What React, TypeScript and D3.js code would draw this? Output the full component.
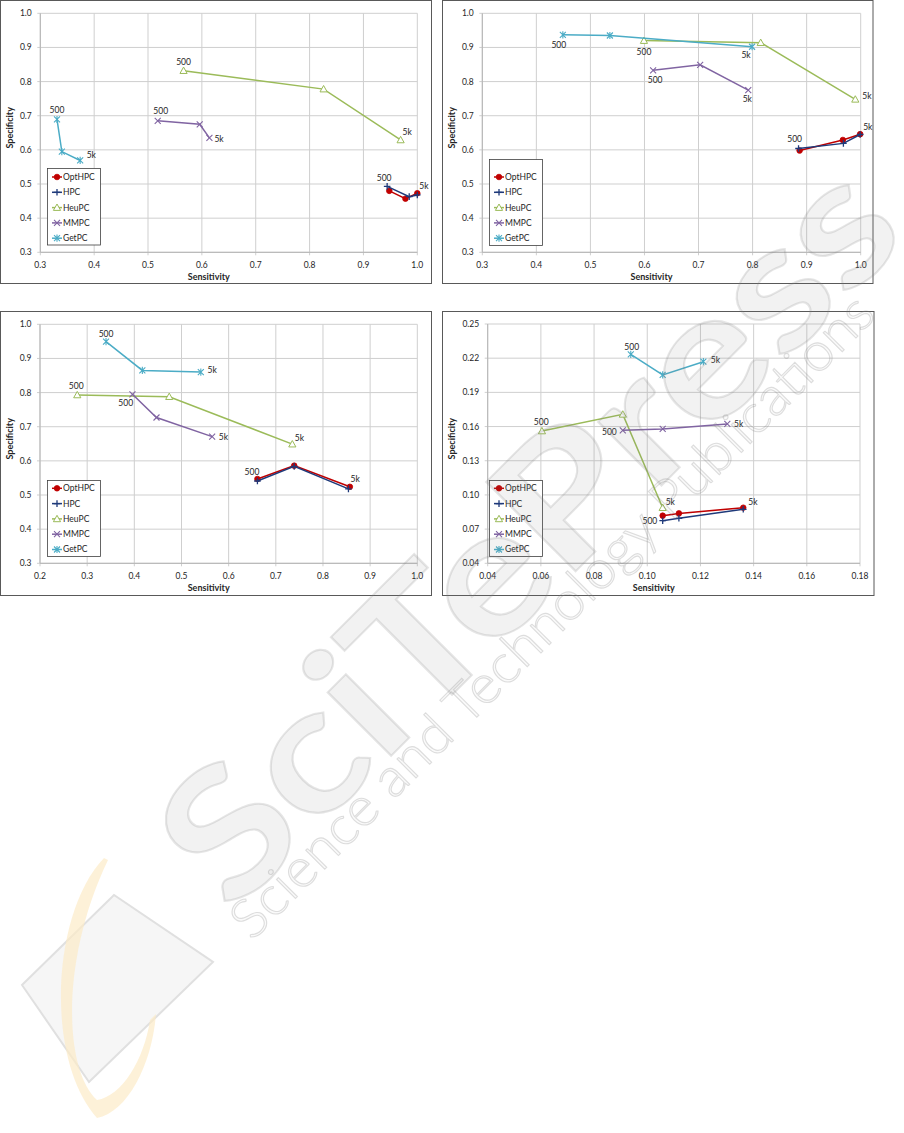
import React from "react";
import * as d3 from "d3";

// ---------- data ----------
const seriesNames = ["OptHPC", "HPC", "HeuPC", "MMPC", "GetPC"];
const seriesColors = ["#C00000", "#1F3A7A", "#9BBB59", "#8064A2", "#4BACC6"];

// Panel 1 (series order as seriesNames)
const p1Sensitivity = [
  [0.948, 0.978, 1.0],
  [0.944, 0.985, 1.0],
  [0.566, 0.826, 0.969],
  [0.518, 0.596, 0.614],
  [0.331, 0.34, 0.374],
];
const p1Specificity = [
  [0.48, 0.457, 0.473],
  [0.493, 0.463, 0.468],
  [0.832, 0.778, 0.629],
  [0.685, 0.675, 0.635],
  [0.689, 0.595, 0.569],
];

// Panel 2
const p2Sensitivity = [
  [0.887, 0.967, 0.999],
  [0.885, 0.968, 0.999],
  [0.599, 0.815, 0.99],
  [0.616, 0.703, 0.792],
  [0.449, 0.536, 0.799],
];
const p2Specificity = [
  [0.598, 0.629, 0.646],
  [0.604, 0.619, 0.645],
  [0.92, 0.914, 0.748],
  [0.833, 0.849, 0.775],
  [0.937, 0.935, 0.902],
];

// Panel 3
const p3Sensitivity = [
  [0.661, 0.739, 0.857],
  [0.661, 0.739, 0.854],
  [0.279, 0.474, 0.735],
  [0.396, 0.447, 0.565],
  [0.34, 0.417, 0.541],
];
const p3Specificity = [
  [0.547, 0.586, 0.524],
  [0.541, 0.584, 0.518],
  [0.793, 0.788, 0.649],
  [0.795, 0.727, 0.671],
  [0.949, 0.865, 0.86],
];

// Panel 4
const p4Sensitivity = [
  [0.1058, 0.1119, 0.1361],
  [0.1058, 0.1119, 0.1361],
  [0.0604, 0.0908, 0.1058],
  [0.0908, 0.1058, 0.1301],
  [0.0938, 0.1058, 0.1211],
];
const p4Specificity = [
  [0.0818, 0.0838, 0.0888],
  [0.0774, 0.0795, 0.0874],
  [0.1561, 0.1707, 0.0888],
  [0.1567, 0.1579, 0.1623],
  [0.2234, 0.2053, 0.2169],
];

// tick values
const ticks03to10 = [0.3, 0.4, 0.5, 0.6, 0.7, 0.8, 0.9, 1.0];
const ticks02to10 = [0.2, 0.3, 0.4, 0.5, 0.6, 0.7, 0.8, 0.9, 1.0];
const p4XTicks = [0.04, 0.06, 0.08, 0.1, 0.12, 0.14, 0.16, 0.18];
const p4YTicks = [0.04, 0.07, 0.1, 0.13, 0.16, 0.19, 0.22, 0.25];

// point annotations (series index, point index, text, placement offset)
const p1Labels = [
  { s: 2, i: 0, text: "500", dx: 0, dy: -6, a: "middle" },
  { s: 2, i: 2, text: "5k", dx: 2, dy: -5, a: "start" },
  { s: 3, i: 0, text: "500", dx: 3, dy: -6.5, a: "middle" },
  { s: 3, i: 2, text: "5k", dx: 5, dy: 4, a: "start" },
  { s: 4, i: 0, text: "500", dx: 0, dy: -6, a: "middle" },
  { s: 4, i: 2, text: "5k", dx: 6.5, dy: -2, a: "start" },
  { s: 1, i: 0, text: "500", dx: -3, dy: -5, a: "middle" },
  { s: 0, i: 2, text: "5k", dx: 2, dy: -4.7, a: "start" },
];
const p2Labels = [
  { s: 4, i: 0, text: "500", dx: -4, dy: 13.5, a: "middle" },
  { s: 4, i: 2, text: "5k", dx: -6, dy: 11.3, a: "middle" },
  { s: 2, i: 0, text: "500", dx: 0, dy: 14, a: "middle" },
  { s: 2, i: 2, text: "5k", dx: 7, dy: -0.6, a: "start" },
  { s: 3, i: 0, text: "500", dx: 2, dy: 12.7, a: "middle" },
  { s: 3, i: 2, text: "5k", dx: -1, dy: 12, a: "middle" },
  { s: 0, i: 0, text: "500", dx: -5, dy: -8.4, a: "middle" },
  { s: 0, i: 2, text: "5k", dx: 3, dy: -4.3, a: "start" },
];
const p3Labels = [
  { s: 4, i: 0, text: "500", dx: 0, dy: -4.4, a: "middle" },
  { s: 4, i: 2, text: "5k", dx: 6.7, dy: 1.3, a: "start" },
  { s: 2, i: 0, text: "500", dx: -1, dy: -6.3, a: "middle" },
  { s: 2, i: 2, text: "5k", dx: 2.4, dy: -2.7, a: "start" },
  { s: 3, i: 0, text: "500", dx: -6.7, dy: 11.4, a: "middle" },
  { s: 3, i: 2, text: "5k", dx: 6.7, dy: 3.3, a: "start" },
  { s: 0, i: 0, text: "500", dx: -5.4, dy: -4.3, a: "middle" },
  { s: 0, i: 2, text: "5k", dx: 0.7, dy: -4.7, a: "start" },
];
const p4Labels = [
  { s: 4, i: 0, text: "500", dx: 1, dy: -4.6, a: "middle" },
  { s: 4, i: 2, text: "5k", dx: 7.4, dy: 1.6, a: "start" },
  { s: 2, i: 0, text: "500", dx: -0.7, dy: -5.7, a: "middle" },
  { s: 2, i: 2, text: "5k", dx: 3, dy: -2.4, a: "start" },
  { s: 3, i: 0, text: "500", dx: -6, dy: 5, a: "end" },
  { s: 3, i: 2, text: "5k", dx: 6.7, dy: 3, a: "start" },
  { s: 1, i: 0, text: "500", dx: -5.4, dy: 3, a: "end" },
  { s: 0, i: 2, text: "5k", dx: 5, dy: -3, a: "start" },
];

// ---------- layout ----------
const panels = [
  {
    frame: { x: 0.5, y: 0.5, w: 431, h: 283 },
    plot: { l: 40.3, r: 417.3, t: 13.3, b: 252.3 },
    xDomain: [0.3, 1.0], yDomain: [0.3, 1.0],
    xTicks: ticks03to10, yTicks: ticks03to10, fmt: ".1f",
    sens: p1Sensitivity, spec: p1Specificity, labels: p1Labels,
    legend: { x: 47.5, y: 168.5, w: 53, h: 76.5, row0: 177 },
  },
  {
    frame: { x: 442.5, y: 0.5, w: 430.5, h: 283 },
    plot: { l: 482.3, r: 860.7, t: 13.3, b: 252.3 },
    xDomain: [0.3, 1.0], yDomain: [0.3, 1.0],
    xTicks: ticks03to10, yTicks: ticks03to10, fmt: ".1f",
    sens: p2Sensitivity, spec: p2Specificity, labels: p2Labels,
    legend: { x: 489.5, y: 159.5, w: 53, h: 86, row0: 177 },
  },
  {
    frame: { x: 0.5, y: 311.5, w: 431, h: 284 },
    plot: { l: 40, r: 417.3, t: 324.3, b: 563.3 },
    xDomain: [0.2, 1.0], yDomain: [0.3, 1.0],
    xTicks: ticks02to10, yTicks: ticks03to10, fmt: ".1f",
    sens: p3Sensitivity, spec: p3Specificity, labels: p3Labels,
    legend: { x: 47.5, y: 480.5, w: 53, h: 76, row0: 488.3 },
  },
  {
    frame: { x: 442.5, y: 311.5, w: 431.5, h: 284 },
    plot: { l: 487.7, r: 860, t: 324, b: 563.3 },
    xDomain: [0.04, 0.18], yDomain: [0.04, 0.25],
    xTicks: p4XTicks, yTicks: p4YTicks, fmt: ".2f",
    sens: p4Sensitivity, spec: p4Specificity, labels: p4Labels,
    legend: { x: 489.5, y: 480.5, w: 53, h: 76, row0: 488.3 },
  },
];

const FONT = "Lato, 'Open Sans', sans-serif";
const TEXT = "#262626";

function Marker({ k, x, y }: { k: number; x: number; y: number }) {
  const c = seriesColors[k];
  const s = 3.3;
  if (k === 0) return <circle cx={x} cy={y} r={2.8} fill={c} stroke={c} strokeWidth={0.8} />;
  if (k === 1)
    return <path d={`M${x - s},${y}H${x + s}M${x},${y - s}V${y + s}`} stroke={c} strokeWidth={1.3} fill="none" />;
  if (k === 2)
    return (
      <path
        d={`M${x},${y - 3.6}L${x + 3.6},${y + 2.8}L${x - 3.6},${y + 2.8}Z`}
        fill="#fff"
        stroke={c}
        strokeWidth={1}
      />
    );
  if (k === 3)
    return (
      <path
        d={`M${x - 3},${y - 3}L${x + 3},${y + 3}M${x - 3},${y + 3}L${x + 3},${y - 3}`}
        stroke={c}
        strokeWidth={1.1}
        fill="none"
      />
    );
  return (
    <path
      d={`M${x - 3},${y - 3}L${x + 3},${y + 3}M${x - 3},${y + 3}L${x + 3},${y - 3}M${x},${y - 3.6}V${y + 3.6}`}
      stroke={c}
      strokeWidth={1.1}
      fill="none"
    />
  );
}

function Panel({ cfg }: { cfg: any }) {
  const { plot, frame, legend } = cfg;
  const x = d3.scaleLinear().domain(cfg.xDomain).range([plot.l, plot.r]);
  const y = d3.scaleLinear().domain(cfg.yDomain).range([plot.b, plot.t]);
  const fmt = d3.format(cfg.fmt);
  const line = d3
    .line<[number, number]>()
    .x((d) => x(d[0]))
    .y((d) => y(d[1]));
  const order = [0, 1, 2, 3, 4];
  return (
    <g>
      <rect x={frame.x} y={frame.y} width={frame.w} height={frame.h} fill="#fff" stroke="#595959" strokeWidth={1} />
      {/* grid */}
      {cfg.yTicks.map((t: number) => (
        <line key={"gy" + t} x1={plot.l - 3} x2={plot.r} y1={y(t)} y2={y(t)} stroke="#CFCFCF" strokeWidth={1} />
      ))}
      {cfg.xTicks.map((t: number) => (
        <line key={"gx" + t} x1={x(t)} x2={x(t)} y1={plot.t} y2={plot.b + 3} stroke="#CFCFCF" strokeWidth={1} />
      ))}
      <line x1={plot.l} x2={plot.l} y1={plot.t} y2={plot.b} stroke="#B5B5B5" />
      <line x1={plot.l} x2={plot.r} y1={plot.b} y2={plot.b} stroke="#B5B5B5" />
      {/* tick labels */}
      {cfg.yTicks.map((t: number) => (
        <text
          key={"ly" + t}
          x={plot.l - 8.5}
          y={y(t)}
          dy="0.35em"
          textAnchor="end"
          fontSize={8.5}
          fontFamily={FONT}
          fill={TEXT}
        >
          {fmt(t)}
        </text>
      ))}
      {cfg.xTicks.map((t: number) => (
        <text
          key={"lx" + t}
          x={x(t)}
          y={plot.b + 15.5}
          textAnchor="middle"
          fontSize={8.5}
          fontFamily={FONT}
          fill={TEXT}
        >
          {fmt(t)}
        </text>
      ))}
      <text
        x={(plot.l + plot.r) / 2 - 20}
        y={plot.b + 27.5}
        textAnchor="middle"
        fontSize={9}
        fontWeight={700}
        fontFamily={FONT}
        fill={TEXT}
      >
        Sensitivity
      </text>
      <text
        transform={`translate(${frame.x + 12.5},${(plot.t + plot.b) / 2 - 5}) rotate(-90)`}
        textAnchor="middle"
        fontSize={9}
        fontWeight={700}
        fontFamily={FONT}
        fill={TEXT}
      >
        Specificity
      </text>
      {/* series */}
      {order.map((k) => {
        const pts: [number, number][] = cfg.sens[k].map((v: number, i: number) => [v, cfg.spec[k][i]]);
        return (
          <g key={"s" + k}>
            <path d={line(pts) || ""} fill="none" stroke={seriesColors[k]} strokeWidth={1.5} />
            {pts.map((p, i) => (
              <Marker key={i} k={k} x={x(p[0])} y={y(p[1])} />
            ))}
          </g>
        );
      })}
      {/* point labels */}
      {cfg.labels.map((l: any, j: number) => (
        <text
          key={"pl" + j}
          x={x(cfg.sens[l.s][l.i]) + l.dx}
          y={y(cfg.spec[l.s][l.i]) + l.dy}
          textAnchor={l.a}
          fontSize={8.5}
          fontFamily={FONT}
          fill={TEXT}
        >
          {l.text}
        </text>
      ))}
      {/* legend */}
      <rect x={legend.x} y={legend.y} width={legend.w} height={legend.h} fill="#fff" stroke="#404040" strokeWidth={0.8} />
      {seriesNames.map((n, k) => {
        const ry = legend.row0 + k * 15.3;
        const lx0 = legend.x + 4.5;
        const lx1 = legend.x + 14.5;
        return (
          <g key={"lg" + k}>
            <line x1={lx0} x2={lx1} y1={ry} y2={ry} stroke={seriesColors[k]} strokeWidth={1.5} />
            <Marker k={k} x={(lx0 + lx1) / 2} y={ry} />
            <text x={legend.x + 15.5} y={ry} dy="0.35em" fontSize={8.5} fontFamily={FONT} fill={TEXT}>
              {n}
            </text>
          </g>
        );
      })}
    </g>
  );
}

function Watermark() {
  return (
    <g pointerEvents="none">
      <path d="M22,985L114,895L213,962L89,1082Z" fill="#F6F6F6" stroke="#E0E0E0" strokeWidth={2} />
      <path
        d="M104,858C52,912 44,1058 97,1118C128,1112 152,1064 156,1014L150,1020C144,1060 122,1096 97,1100C64,1070 60,960 108,860Z"
        fill="#FCEBC8"
        opacity={0.7}
      />
      <g transform="translate(232,915) rotate(-45)">
        <text
          x={0}
          y={0}
          fontSize={175}
          fontWeight={700}
          fontFamily={FONT}
          fill="#808080"
          fillOpacity={0.1}
          stroke="#808080"
          strokeOpacity={0.2}
          strokeWidth={2}
          textLength={960}
          lengthAdjust="spacingAndGlyphs"
        >
          SciTePress
        </text>
      </g>
      <g transform="translate(252,942) rotate(-45)">
        <text
          x={0}
          y={0}
          fontSize={54}
          fontWeight={300}
          fontFamily={FONT}
          fill="#808080"
          fillOpacity={0.04}
          stroke="#808080"
          strokeOpacity={0.25}
          strokeWidth={1.1}
          textLength={885}
          lengthAdjust="spacingAndGlyphs"
        >
          Science and Technology Publications
        </text>
      </g>
    </g>
  );
}

export default function App() {
  return (
    <svg
      width={904}
      height={1133}
      viewBox="0 0 904 1133"
      style={{ position: "absolute", left: 0, top: 0, background: "#fff" }}
    >
      <rect x={0} y={0} width={904} height={1133} fill="#fff" />
      {panels.map((p, i) => (
        <Panel key={i} cfg={p} />
      ))}
      <Watermark />
    </svg>
  );
}
